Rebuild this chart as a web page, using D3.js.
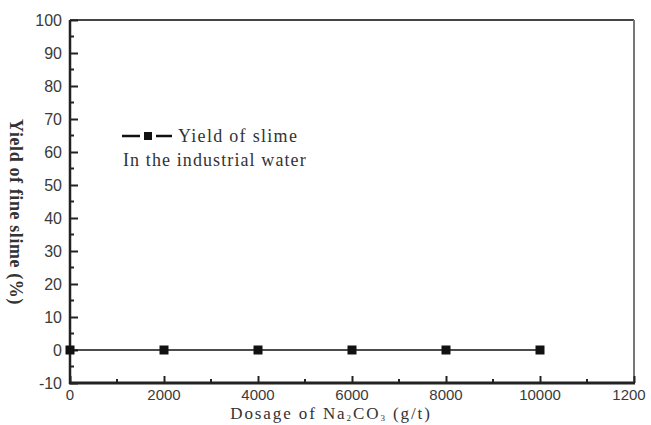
<!DOCTYPE html>
<html>
<head>
<meta charset="utf-8">
<script src="https://cdn.jsdelivr.net/npm/d3@7"></script>
<style>
  body { margin: 0; background: #fff; }
  svg { display: block; }
</style>
</head>
<body>
<script>
// data
var dosage = [0, 2000, 4000, 6000, 8000, 10000];
var yieldSlime = [0, 0, 0, 0, 0, 0];
var xTicks = [0, 2000, 4000, 6000, 8000, 10000, 12000];
var xTickLabels = ["0", "2000", "4000", "6000", "8000", "10000", "1200"];
var yTicks = [-10, 0, 10, 20, 30, 40, 50, 60, 70, 80, 90, 100];

var width = 651,
    height = 425;
var margin = {left: 70, right: 17, top: 20, bottom: 42};

var svg = d3.select("body").append("svg")
    .attr("width", width)
    .attr("height", height);

var x = d3.scaleLinear().domain([0, 12000]).range([margin.left, width - margin.right]);
var y = d3.scaleLinear().domain([-10, 100]).range([height - margin.bottom, margin.top]);

var sans = "Arial, 'Liberation Sans', sans-serif";
var serif = "'Times New Roman', 'Liberation Serif', serif";

// frame: top and right lighter
svg.append("line")
    .attr("x1", x(0)).attr("x2", x(12000))
    .attr("y1", y(100)).attr("y2", y(100))
    .style("stroke", "#444").style("stroke-width", 2);
svg.append("line")
    .attr("x1", x(12000)).attr("x2", x(12000))
    .attr("y1", y(100)).attr("y2", y(-10))
    .style("stroke", "#777").style("stroke-width", 2);

// y axis, ticks pointing inward
var yAxis = d3.axisRight(y).tickValues(yTicks).tickSize(8).tickFormat("");
var gy = svg.append("g").attr("transform", "translate(" + x(0) + ",0)").call(yAxis);
gy.select(".domain").remove();
gy.selectAll(".tick line").style("stroke", "#222").style("stroke-width", 2);

var yMinor = d3.range(-5, 100, 10);
svg.append("g").selectAll("line").data(yMinor)
    .enter().append("line")
    .attr("x1", x(0)).attr("x2", x(0) + 4)
    .attr("y1", d => y(d)).attr("y2", d => y(d))
    .style("stroke", "#222").style("stroke-width", 2);

svg.append("g").selectAll("text").data(yTicks)
    .enter().append("text")
    .text(d => d)
    .attr("x", x(0) - 8)
    .attr("y", d => y(d) + 6)
    .attr("text-anchor", "end")
    .style("font-family", sans).style("font-size", "16px").style("fill", "#3a3a3a");

// x axis, ticks pointing inward
var xAxis = d3.axisTop(x).tickValues(xTicks).tickSize(7).tickFormat("");
var gx = svg.append("g").attr("transform", "translate(0," + y(-10) + ")").call(xAxis);
gx.select(".domain").remove();
gx.selectAll(".tick line").style("stroke", "#222").style("stroke-width", 2);

var xMinor = d3.range(1000, 12000, 2000);
svg.append("g").selectAll("line").data(xMinor)
    .enter().append("line")
    .attr("x1", d => x(d)).attr("x2", d => x(d))
    .attr("y1", y(-10)).attr("y2", y(-10) - 4)
    .style("stroke", "#222").style("stroke-width", 2);

svg.append("g").selectAll("text").data(xTicks)
    .enter().append("text")
    .text((d, i) => xTickLabels[i])
    .attr("x", (d, i) => i == xTicks.length - 1 ? x(d) - 5 : x(d))
    .attr("y", y(-10) + 17)
    .attr("text-anchor", "middle")
    .style("font-family", sans).style("font-size", "15px").style("fill", "#3a3a3a");

// axis lines (drawn on top)
svg.append("line")
    .attr("x1", x(0)).attr("x2", x(0))
    .attr("y1", y(100)).attr("y2", y(-10) + 1)
    .style("stroke", "#222").style("stroke-width", 2.5);
svg.append("line")
    .attr("x1", x(0) - 1).attr("x2", x(12000) + 1)
    .attr("y1", y(-10)).attr("y2", y(-10))
    .style("stroke", "#222").style("stroke-width", 3);

// series
var line = d3.line().x((d, i) => x(dosage[i])).y(d => y(d));
svg.append("path")
    .datum(yieldSlime)
    .attr("d", line)
    .style("fill", "none").style("stroke", "#111").style("stroke-width", 1.6);

svg.append("g").selectAll("rect").data(yieldSlime)
    .enter().append("rect")
    .attr("x", (d, i) => x(dosage[i]) - 4.5)
    .attr("y", d => y(d) - 4.5)
    .attr("width", 9).attr("height", 9)
    .style("fill", "#111");

// legend
var lg = svg.append("g");
lg.append("line").attr("x1", 122).attr("x2", 140).attr("y1", 136).attr("y2", 136)
    .style("stroke", "#111").style("stroke-width", 2.5);
lg.append("line").attr("x1", 156).attr("x2", 172).attr("y1", 136).attr("y2", 136)
    .style("stroke", "#111").style("stroke-width", 2.5);
lg.append("rect").attr("x", 144).attr("y", 132).attr("width", 8).attr("height", 8)
    .style("fill", "#111");
lg.append("text").text("Yield of slime").attr("x", 178).attr("y", 142)
    .style("font-family", serif).style("font-size", "18px").style("letter-spacing", "1.3px").style("fill", "#333");
lg.append("text").text("In the industrial water").attr("x", 123).attr("y", 166)
    .style("font-family", serif).style("font-size", "18px").style("letter-spacing", "1.1px").style("fill", "#333");

// axis titles
svg.append("text")
    .attr("transform", "translate(10," + 212 + ") rotate(90)")
    .attr("text-anchor", "middle")
    .text("Yield of fine slime (%)")
    .style("font-family", serif).style("font-size", "18px").style("font-weight", "bold")
    .style("letter-spacing", "0.6px").style("fill", "#333");

var xt = svg.append("text")
    .attr("x", 331).attr("y", 419)
    .attr("text-anchor", "middle")
    .style("font-family", serif).style("font-size", "17px").style("letter-spacing", "1.9px").style("fill", "#333");
xt.append("tspan").text("Dosage of Na");
xt.append("tspan").text("2").attr("dy", 2).style("font-size", "9px");
xt.append("tspan").text("CO").attr("dy", -2);
xt.append("tspan").text("3").attr("dy", 2).style("font-size", "9px");
xt.append("tspan").text(" (g/t)").attr("dy", -2);
</script>
</body>
</html>
